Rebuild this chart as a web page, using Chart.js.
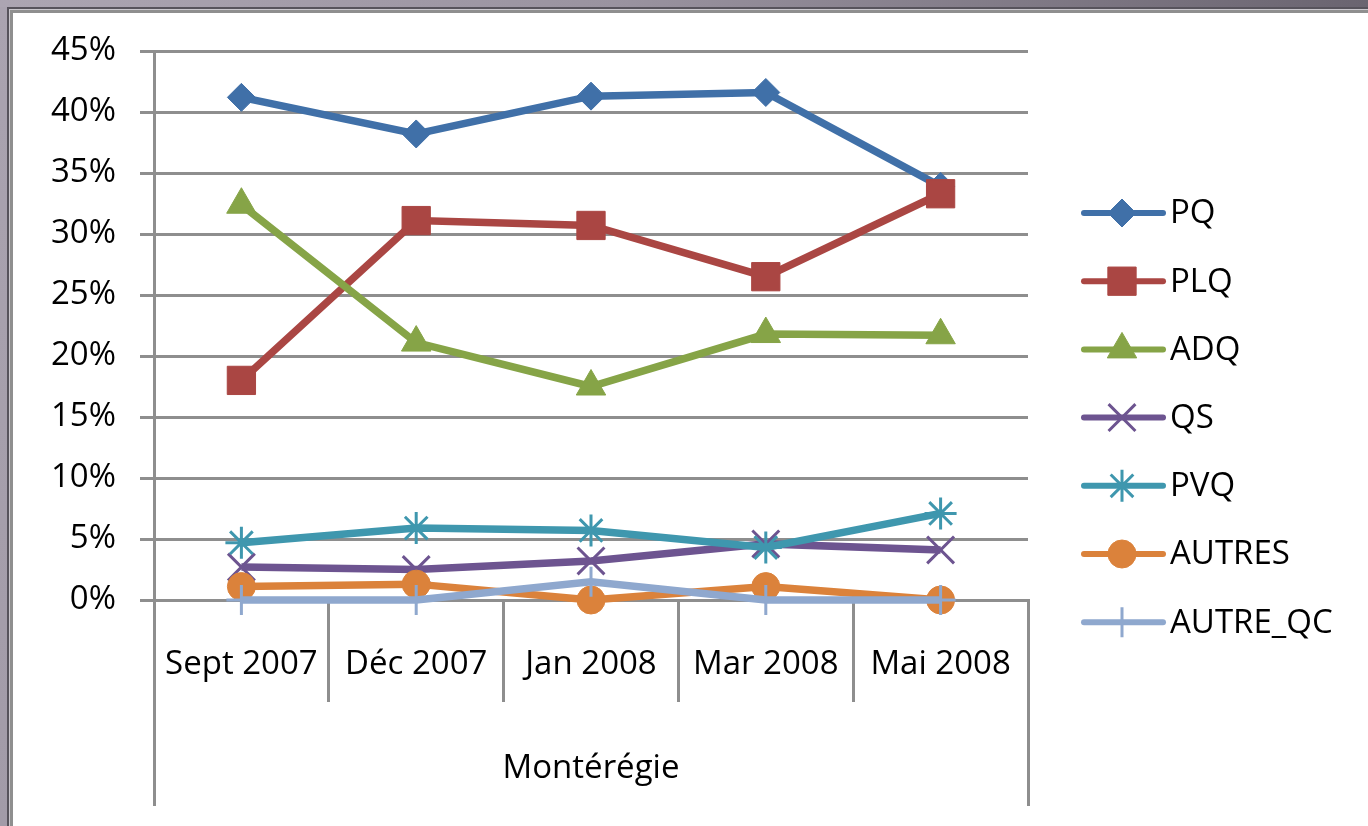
<!DOCTYPE html>
<html>
<head>
<meta charset="utf-8">
<script src="https://cdn.jsdelivr.net/npm/chart.js@4.4.1/dist/chart.umd.min.js"></script>
<style>
html,body{margin:0;padding:0;background:#fff;overflow:hidden;}
#f0{position:absolute;left:0;top:0;width:1368px;height:826px;background:linear-gradient(to right,#aca5b2 0%,#9a93a0 45%,#6a6470 100%);}
#f0b{position:absolute;left:0;top:7px;width:7px;height:819px;background:linear-gradient(to bottom,#aaa3b0,#a29ba8);}
#f1{position:absolute;left:7px;top:7px;right:0;bottom:0;background:#57535c;}
#f2{position:absolute;left:9px;top:9px;right:0;bottom:0;background:#c9c6cc;}
#f3{position:absolute;left:10px;top:10px;right:0;bottom:0;background:#8f8f8f;}
#wrap{position:absolute;left:13px;top:13px;width:1355px;height:813px;background:#fff;}
canvas{display:block;}
</style>
</head>
<body>
<div id="f0"></div><div id="f0b"></div>
<div id="f1"></div><div id="f2"></div><div id="f3"></div>
<div id="wrap"><canvas id="c" width="1355" height="813"></canvas></div>
<script>
// ---- data ----
const categories = ['Sept 2007', 'Déc 2007', 'Jan 2008', 'Mar 2008', 'Mai 2008'];
const groupLabels = ['Montérégie'];
const seriesNames = ['PQ', 'PLQ', 'ADQ', 'QS', 'PVQ', 'AUTRES', 'AUTRE_QC'];
const PQ       = [41.2, 38.2, 41.3, 41.6, 33.9];
const PLQ      = [18.0, 31.1, 30.7, 26.5, 33.3];
const ADQ      = [32.4, 21.1, 17.5, 21.8, 21.7];
const QS       = [2.7, 2.5, 3.2, 4.6, 4.1];
const PVQ      = [4.7, 5.9, 5.7, 4.3, 7.1];
const AUTRES   = [1.1, 1.3, 0.0, 1.1, 0.0];
const AUTRE_QC = [0.0, 0.0, 1.5, 0.0, 0.0];
const yMin = 0, yMax = 45, yStep = 5;

// ---- styles ----
const FONT = '"Open Sans", "Noto Sans", sans-serif';
const GRID = '#8e8e8e';
const colors = ['#4070a8', '#aa4643', '#86a447', '#6d5490', '#3f97ae', '#db823b', '#8fa8ce'];
const styles = [
  {pointStyle:'rectRot', r:14, bw:1},
  {pointStyle:'rect', r:20, bw:1},
  {pointStyle:'triangle', r:17, bw:1},
  {pointStyle:'crossRot', r:19, bw:3},
  {pointStyle:'star', r:16, bw:3},
  {pointStyle:'circle', r:14, bw:1},
  {pointStyle:'cross', r:15, bw:3}
];
const values = [PQ, PLQ, ADQ, QS, PVQ, AUTRES, AUTRE_QC];

const datasets = seriesNames.map((name, i) => ({
  label: name,
  data: values[i],
  borderColor: colors[i],
  backgroundColor: colors[i],
  borderWidth: 7.5,
  tension: 0,
  pointStyle: styles[i].pointStyle,
  pointRadius: styles[i].r,
  pointHoverRadius: styles[i].r,
  pointBorderWidth: styles[i].bw,
  pointBackgroundColor: colors[i],
  pointBorderColor: colors[i],
  clip: false,
  order: seriesNames.length - i
}));

const legendPlugin = {
  id: 'xlLegend',
  afterDraw(chart) {
    const ctx = chart.ctx;
    const x0 = 1071, x1 = 1150, xm = 1109, xt = 1157;
    const y0 = 200, dy = 68.2;
    chart.data.datasets.forEach((ds, i) => {
      const y = y0 + i * dy;
      ctx.save();
      ctx.strokeStyle = ds.borderColor;
      ctx.lineWidth = 6;
      ctx.lineCap = 'round';
      ctx.beginPath(); ctx.moveTo(x0, y); ctx.lineTo(x1, y); ctx.stroke();
      if (Chart.helpers && Chart.helpers.drawPoint) {
        ctx.fillStyle = ds.pointBackgroundColor;
        ctx.strokeStyle = ds.pointBorderColor;
        ctx.lineWidth = ds.pointBorderWidth;
        ctx.lineCap = 'butt';
        Chart.helpers.drawPoint(ctx, {pointStyle: ds.pointStyle, radius: ds.pointRadius, borderWidth: ds.pointBorderWidth, rotation: 0}, xm, y);
      }
      ctx.fillStyle = '#000';
      ctx.font = '33px ' + FONT;
      ctx.textAlign = 'left';
      ctx.textBaseline = 'middle';
      ctx.fillText(ds.label, xt, y + 1);
      ctx.restore();
    });
  }
};

Chart.defaults.font.family = FONT;
Chart.defaults.color = '#000';

new Chart(document.getElementById('c'), {
  type: 'line',
  data: { labels: categories, datasets },
  options: {
    responsive: false,
    animation: false,
    devicePixelRatio: 1,
    events: [],
    layout: { padding: { left: 0, right: 340, top: 38, bottom: 20 } },
    plugins: { legend: { display: false }, tooltip: { enabled: false } },
    scales: {
      x: {
        type: 'category',
        position: 'bottom',
        offset: true,
        weight: 0,
        grid: { display: true, offset: true, drawOnChartArea: false, drawTicks: true, tickLength: 102, color: GRID, lineWidth: 3 },
        border: { display: true, color: GRID, width: 3 },
        ticks: { font: { size: 33 }, padding: -57, maxRotation: 0, minRotation: 0, autoSkip: false, color: '#000' },
        afterFit(s) { s.height = 102; s.paddingLeft = 0; s.paddingRight = 0; }
      },
      x2: {
        type: 'category',
        labels: groupLabels,
        position: 'bottom',
        offset: true,
        weight: 1,
        grid: { display: true, offset: true, drawOnChartArea: false, drawTicks: true, tickLength: 104, color: GRID, lineWidth: 3 },
        border: { display: false },
        ticks: { font: { size: 33 }, padding: -57, maxRotation: 0, minRotation: 0, autoSkip: false, color: '#000' },
        afterFit(s) { s.height = 104; s.paddingLeft = 0; s.paddingRight = 0; }
      },
      y: {
        min: yMin, max: yMax,
        grid: { color: GRID, lineWidth: 3, tickLength: 14, drawTicks: true },
        border: { display: true, color: GRID, width: 3 },
        ticks: { stepSize: yStep, font: { size: 33 }, padding: 24, color: '#000', callback: v => v + '%' },
        afterFit(s) { s.width = 141; s.paddingTop = 0; s.paddingBottom = 0; }
      }
    }
  },
  plugins: [legendPlugin]
});
</script>
</body>
</html>
